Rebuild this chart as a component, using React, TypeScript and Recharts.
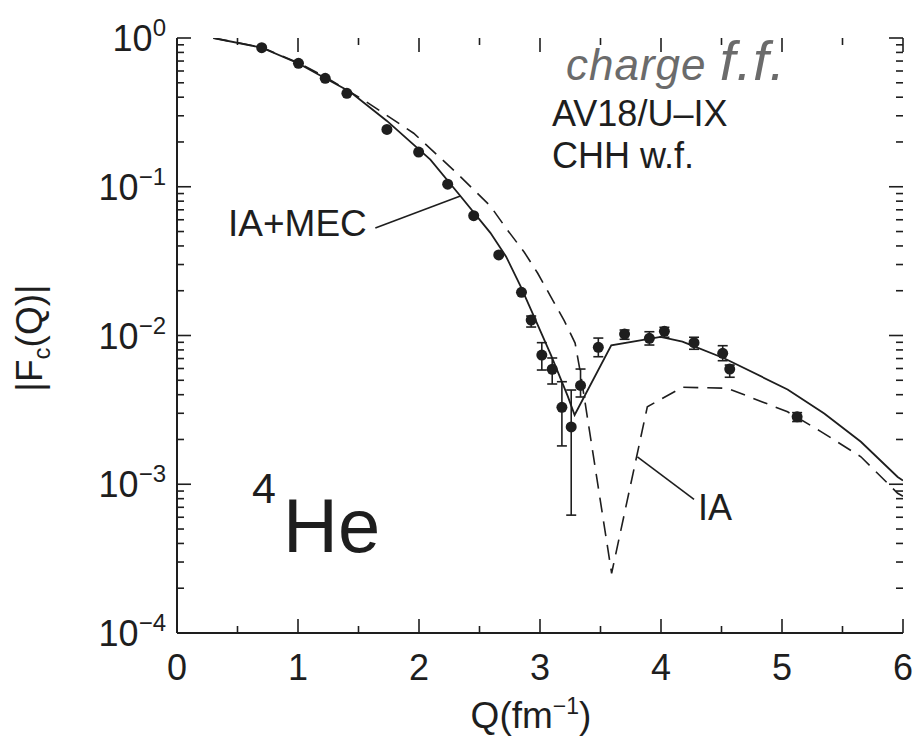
import React from 'react';
import {
  ComposedChart,
  Line,
  Scatter,
  ErrorBar,
  XAxis,
  YAxis,
  ReferenceLine
} from 'recharts';

// IA+MEC calculation (solid curve)
const solidQ = [0.3, 0.7, 1.0, 1.225, 1.43, 1.735, 2.094, 2.342, 2.59, 2.72, 2.84, 2.96, 3.09, 3.16, 3.23, 3.286, 3.589, 3.997, 4.177, 4.521, 5.046, 5.349, 5.652, 5.956, 6.0];
const solidF = [1.0, 0.861, 0.676, 0.536, 0.435, 0.277, 0.152, 0.0867, 0.049, 0.0339, 0.0214, 0.0129, 0.0074, 0.00537, 0.0039, 0.00292, 0.0086, 0.0098, 0.0091, 0.00703, 0.00434, 0.00299, 0.00193, 0.00112, 0.00106];

// IA calculation (dashed curve)
const iaQ = [0.3, 0.7, 1.0, 1.225, 1.542, 1.956, 2.315, 2.59, 2.73, 2.87, 2.98, 3.09, 3.2, 3.29, 3.335, 3.592, 3.887, 4.177, 4.549, 5.046, 5.322, 5.652, 5.956, 6.0];
const iaF = [1.0, 0.865, 0.682, 0.548, 0.383, 0.229, 0.123, 0.0741, 0.0513, 0.0363, 0.0263, 0.0182, 0.0126, 0.0089, 0.00557, 0.000252, 0.00332, 0.00449, 0.00442, 0.00307, 0.00226, 0.00153, 0.00087, 0.00083];

// experimental points, with lower / upper ends of the error bars (null = bar hidden by marker)
const expQ = [0.70, 1.004, 1.225, 1.404, 1.735, 1.997, 2.237, 2.452, 2.659, 2.847, 2.927, 3.015, 3.101, 3.181, 3.258, 3.335, 3.482, 3.699, 3.904, 4.028, 4.273, 4.51, 4.568, 5.125];
const expF = [0.861, 0.676, 0.536, 0.425, 0.243, 0.171, 0.104, 0.0639, 0.0348, 0.0195, 0.0127, 0.00739, 0.00593, 0.00329, 0.00243, 0.00462, 0.00833, 0.01023, 0.00957, 0.01067, 0.00895, 0.00759, 0.00595, 0.00284];
const expLo = [null, null, null, null, null, null, null, null, null, null, 0.0114, 0.00586, 0.00472, 0.00181, 0.00062, 0.00386, 0.0072, 0.00943, 0.00863, 0.00973, 0.00808, 0.00677, 0.00524, 0.00264];
const expHi = [null, null, null, null, null, null, null, null, null, null, 0.01352, 0.00895, 0.00706, 0.00489, 0.0043, 0.00595, 0.00961, 0.01089, 0.0106, 0.01135, 0.00973, 0.00854, 0.00633, 0.00303];

// axes
const xTicks = [0, 0.5, 1, 1.5, 2, 2.5, 3, 3.5, 4, 4.5, 5, 5.5, 6];
const xMajor = [0, 1, 2, 3, 4, 5, 6];
const xTickLabels = ['0', '1', '2', '3', '4', '5', '6'];
const yMajor = [1e-4, 1e-3, 1e-2, 1e-1, 1];
const yExponents = ['\u22124', '\u22123', '\u22122', '\u22121', '0'];
const yMinorMult = [2, 3, 4, 5, 6, 7, 8, 9];

// leader lines for the curve labels
const mecLeader = [{ x: 1.639, y: 0.0528 }, { x: 2.342, y: 0.0867 }];
const iaLeader = [{ x: 4.273, y: 0.000792 }, { x: 3.805, y: 0.00153 }];

const yTicks: number[] = [];
yMajor.forEach((m, i) => {
  yTicks.push(m);
  if (i < yMajor.length - 1) yMinorMult.forEach((k) => yTicks.push(+(m * k).toPrecision(3)));
});

const solidData = solidQ.map((q, i) => ({ x: q, y: solidF[i] }));
const iaData = iaQ.map((q, i) => ({ x: q, y: iaF[i] }));
const expRows = expQ.map((q, i) => ({
  x: q,
  y: expF[i],
  lo: expLo[i],
  err: expLo[i] == null ? [0, 0] : [expF[i] - (expLo[i] as number), (expHi[i] as number) - expF[i]]
}));
const expPlain = expRows.filter((r) => r.lo == null);
const expBars = expRows.filter((r) => r.lo != null);

const INK = '#1e1e1e';
const FONT = '"Liberation Sans", Arial, Helvetica, sans-serif';
const PLOT = { left: 177, top: 38, right: 903, bottom: 633 };

const XTick = (props: any) => {
  const { x, payload } = props;
  const idx = xMajor.indexOf(payload.value);
  const len = idx >= 0 ? 14 : 7;
  return (
    <g>
      <line x1={x} x2={x} y1={PLOT.bottom} y2={PLOT.bottom - len} stroke={INK} strokeWidth={1.6} />
      <line x1={x} x2={x} y1={PLOT.top} y2={PLOT.top + len} stroke={INK} strokeWidth={1.6} />
      {idx >= 0 && (
        <text x={x} y={680} textAnchor="middle" fontSize={36} fill={INK} fontFamily={FONT}>
          {xTickLabels[idx]}
        </text>
      )}
    </g>
  );
};

const YTick = (props: any) => {
  const { y, payload } = props;
  const idx = yMajor.indexOf(payload.value);
  const len = idx >= 0 ? 14 : 7;
  return (
    <g>
      <line x1={PLOT.left} x2={PLOT.left + len} y1={y} y2={y} stroke={INK} strokeWidth={1.6} />
      <line x1={PLOT.right} x2={PLOT.right - len} y1={y} y2={y} stroke={INK} strokeWidth={1.6} />
      {idx >= 0 && (
        <text x={166} y={y + 13} textAnchor="end" fontSize={36} fill={INK} fontFamily={FONT}>
          10
          <tspan dy={-15} fontSize={24}>{yExponents[idx]}</tspan>
        </text>
      )}
    </g>
  );
};

const Dot = (props: any) => <circle cx={props.cx} cy={props.cy} r={5.5} fill={INK} />;

export default function App() {
  return (
    <div style={{ position: 'absolute', left: 0, top: 0, width: 917, height: 738, background: '#fff' }}>
      <ComposedChart width={917} height={738} margin={{ top: 38, right: 14, bottom: 0, left: 0 }}>
        <XAxis
          dataKey="x"
          type="number"
          domain={[0, 6]}
          ticks={xTicks}
          interval={0}
          allowDataOverflow
          height={105}
          tickLine={false}
          axisLine={{ stroke: INK, strokeWidth: 2 }}
          tick={(p: any) => <XTick {...p} />}
        />
        <XAxis xAxisId="top" orientation="top" type="number" domain={[0, 6]} height={0} tick={false} tickLine={false} axisLine={{ stroke: INK, strokeWidth: 2 }} />
        <YAxis
          type="number"
          scale="log"
          domain={[1e-4, 1]}
          ticks={yTicks}
          interval={0}
          allowDataOverflow
          width={177}
          tickLine={false}
          axisLine={{ stroke: INK, strokeWidth: 2 }}
          tick={(p: any) => <YTick {...p} />}
        />
        <YAxis yAxisId="right" orientation="right" type="number" scale="log" domain={[1e-4, 1]} width={0} tick={false} tickLine={false} axisLine={{ stroke: INK, strokeWidth: 2 }} />

        <Line data={iaData} dataKey="y" type="linear" stroke={INK} strokeWidth={1.6} strokeDasharray="15 9" dot={false} isAnimationActive={false} />
        <Line data={solidData} dataKey="y" type="linear" stroke={INK} strokeWidth={1.8} dot={false} isAnimationActive={false} />
        <Scatter data={expPlain} dataKey="y" shape={Dot} isAnimationActive={false} />
        <Scatter data={expBars} dataKey="y" shape={Dot} isAnimationActive={false}>
          <ErrorBar dataKey="err" direction="y" width={5} stroke={INK} strokeWidth={1.6} />
        </Scatter>

        <ReferenceLine segment={mecLeader} stroke={INK} strokeWidth={1.6} ifOverflow="visible" />
        <ReferenceLine segment={iaLeader} stroke={INK} strokeWidth={1.6} ifOverflow="visible" />
      </ComposedChart>

      <svg width={917} height={738} style={{ position: 'absolute', left: 0, top: 0, pointerEvents: 'none' }} fontFamily={FONT}>
        <text x={228} y={236} fontSize={37} fill={INK}>IA+MEC</text>
        <text x={698} y={520} fontSize={36} fill={INK}>IA</text>
        <text x={552} y={126} fontSize={36} fill={INK}>AV18/U{'\u2013'}IX</text>
        <text x={552} y={168} fontSize={36} fill={INK}>CHH w.f.</text>
        <text x={566} y={80} fontSize={44} fill="#6b6b6b" fontStyle="italic" letterSpacing={1}>
          charge <tspan fontSize={56}>f.f.</tspan>
        </text>
        <text x={252} y={503} fontSize={43} fill={INK}>4</text>
        <text x={283} y={552} fontSize={76} fill={INK}>He</text>
        <text x={531} y={728} fontSize={37} fill={INK} textAnchor="middle">
          Q(fm<tspan dy={-14} fontSize={23}>{'\u2212'}1</tspan><tspan dy={14}>)</tspan>
        </text>
        <text transform="translate(42,338) rotate(-90)" fontSize={37} fill={INK} textAnchor="middle">
          |F<tspan dy={8} fontSize={24}>c</tspan><tspan dy={-8}>(Q)|</tspan>
        </text>
      </svg>
    </div>
  );
}
